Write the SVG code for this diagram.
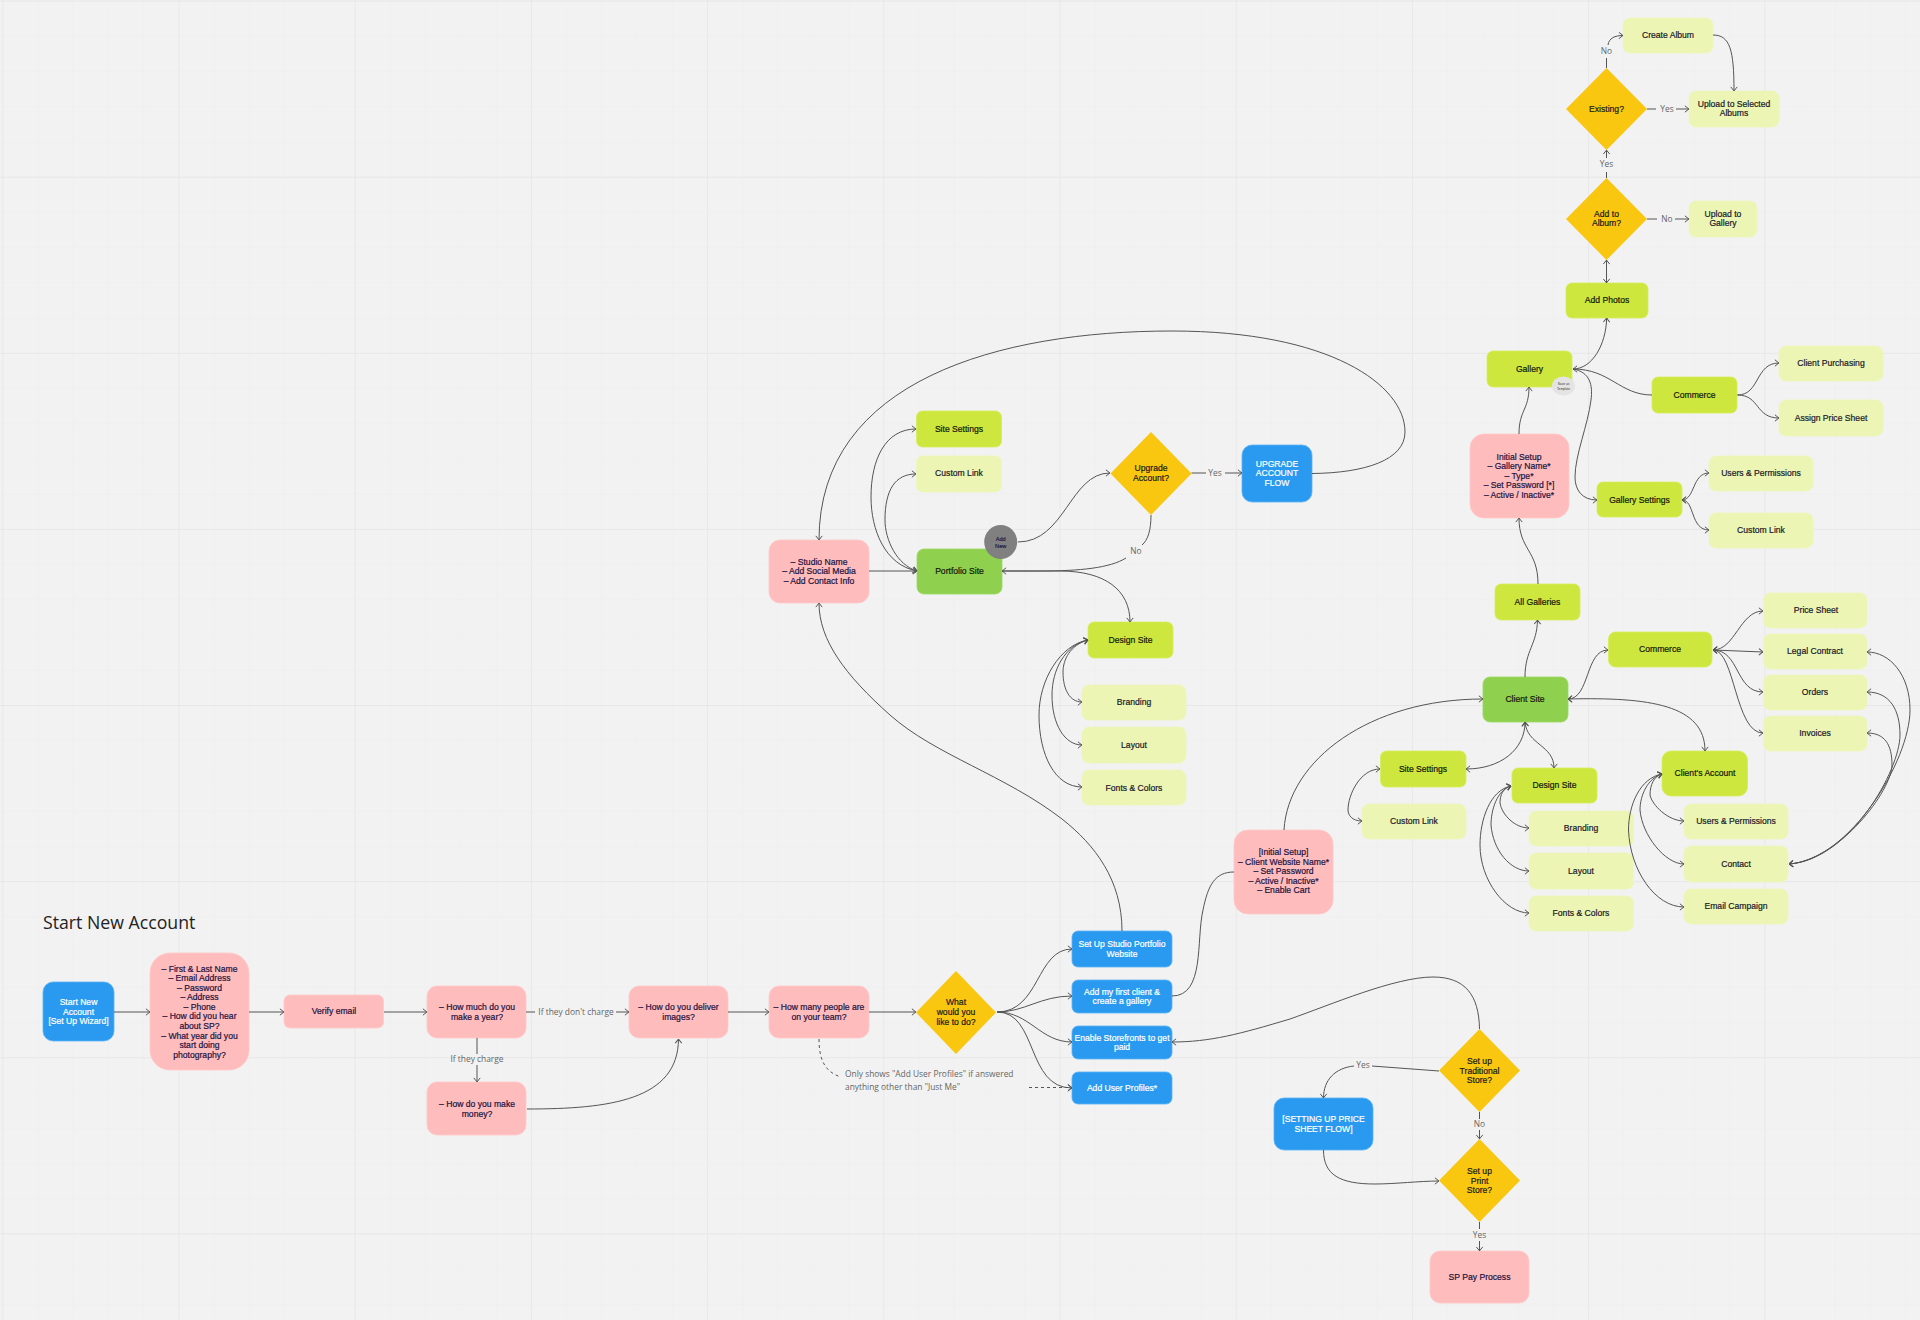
<svg xmlns="http://www.w3.org/2000/svg" width="1920" height="1320" viewBox="0 0 1920 1320">
<style>
text{font-family:"Liberation Sans",Arial,sans-serif;font-size:8.6px;text-anchor:middle}
.bl rect{fill:#2a9af0;stroke:#5cb3f5;stroke-width:.8}
.bl text{fill:#fff;stroke:#fff;stroke-width:.2}
.pk rect{fill:#ffbcbc;stroke:#ffc9c9;stroke-width:.8}
.pk text{fill:#1c1240;stroke:#1c1240;stroke-width:.2}
.lm rect{fill:#cee73e;stroke:#d6ec5a;stroke-width:.8}
.lm text{fill:#14180a;stroke:#14180a;stroke-width:.2}
.lt rect{fill:#ecf5b4;stroke:#eef6bd;stroke-width:.8}
.lt text{fill:#1a1a2a;stroke:#1a1a2a;stroke-width:.2}
.gr rect{fill:#8fd14f;stroke:#9ad860;stroke-width:.8}
.gr text{fill:#14180a;stroke:#14180a;stroke-width:.2}
.dm polygon{fill:#fac710}
.dm text{fill:#1a1a1a;stroke:#1a1a1a;stroke-width:.2}
.lb{font-family:"Open Sans","Noto Sans",sans-serif;fill:#666;font-size:8.4px}
.st{text-anchor:start}
.cn{fill:none;stroke:#555;stroke-width:1}
.a{marker-end:url(#ah)}
.b{marker-start:url(#ah);marker-end:url(#ah)}
.d{stroke-dasharray:3 3}
</style>
<defs>
<marker id="ah" viewBox="0 0 6 8" refX="5.6" refY="4" markerWidth="6" markerHeight="8" markerUnits="userSpaceOnUse" orient="auto-start-reverse"><path d="M1.5,.8 L5.5,4 L1.5,7.2" fill="none" stroke="#555" stroke-width="1"/></marker>
<pattern id="mn" x="2.3" y=".6" width="35.24" height="35.22" patternUnits="userSpaceOnUse"><path d="M0,0H35.24M0,0V35.22" stroke="#eeeeee" stroke-width="1" fill="none"/></pattern>
<pattern id="mj" x="2.3" y=".6" width="176.2" height="176.1" patternUnits="userSpaceOnUse"><path d="M0,0H176.2M0,0V176.1" stroke="#e5e5e5" stroke-width="1.4" fill="none"/></pattern>
</defs>
<rect width="1920" height="1320" fill="#f2f2f2"/>
<rect width="1920" height="1320" fill="url(#mn)"/>
<rect width="1920" height="1320" fill="url(#mj)"/>
<g id="labels">
<text x="43" y="929" class="st" style="font-family:'Open Sans',sans-serif;font-size:17.7px;fill:#222">Start New Account</text>
<text x="576" y="1015" class="lb">If they don't charge</text>
<text x="477" y="1062" class="lb">If they charge</text>
<text x="845" y="1077" class="lb st">Only shows "Add User Profiles" if answered</text>
<text x="845" y="1090" class="lb st">anything other than "Just Me"</text>
<text x="1363" y="1068" class="lb">Yes</text>
<text x="1479.5" y="1127" class="lb">No</text>
<text x="1479.5" y="1238" class="lb">Yes</text>
<text x="1215" y="476" class="lb">Yes</text>
<text x="1136" y="554" class="lb">No</text>
<text x="1606.5" y="167" class="lb">Yes</text>
<text x="1667" y="222" class="lb">No</text>
<text x="1667" y="112" class="lb">Yes</text>
<text x="1606.5" y="54" class="lb">No</text>
</g>
<g id="n-start" class="bl"><rect x="43" y="982" width="71" height="59" rx="10"/><text x="78.5" y="1005">Start New</text><text x="78.5" y="1014.5">Account</text><text x="78.5" y="1024">[Set Up Wizard]</text></g>
<g id="n-signup" class="pk"><rect x="150" y="953" width="99" height="117" rx="20"/><text x="199.5" y="971.7">– First &amp; Last Name</text><text x="199.5" y="981.2">– Email Address</text><text x="199.5" y="990.8">– Password</text><text x="199.5" y="1000.3">– Address</text><text x="199.5" y="1009.9">– Phone</text><text x="199.5" y="1019.4">– How did you hear</text><text x="199.5" y="1029">about SP?</text><text x="199.5" y="1038.5">– What year did you</text><text x="199.5" y="1048">start doing</text><text x="199.5" y="1057.6">photography?</text></g>
<g id="n-verify" class="pk"><rect x="284" y="995" width="99.5" height="33" rx="6"/><text x="334" y="1014">Verify email</text></g>
<g id="n-much" class="pk"><rect x="427" y="986" width="99" height="52" rx="10"/><text x="477" y="1010">– How much do you</text><text x="477" y="1019.5">make a year?</text></g>
<g id="n-money" class="pk"><rect x="427" y="1082" width="99" height="53" rx="10"/><text x="477" y="1107">– How do you make</text><text x="477" y="1116.5">money?</text></g>
<g id="n-deliver" class="pk"><rect x="629" y="986" width="99" height="52" rx="10"/><text x="678.5" y="1010">– How do you deliver</text><text x="678.5" y="1019.5">images?</text></g>
<g id="n-team" class="pk"><rect x="769" y="986" width="100" height="52" rx="10"/><text x="819" y="1010">– How many people are</text><text x="819" y="1019.5">on your team?</text></g>
<g id="n-todo" class="dm"><polygon points="956,971 996,1012.5 956,1054 916,1012.5"/><text x="956" y="1005">What</text><text x="956" y="1015">would you</text><text x="956" y="1024.5">like to do?</text></g>
<g id="n-portfolio-setup" class="bl"><rect x="1072" y="931" width="100" height="36" rx="6"/><text x="1122" y="947">Set Up Studio Portfolio</text><text x="1122" y="956.5">Website</text></g>
<g id="n-first-client" class="bl"><rect x="1072" y="980" width="100" height="33" rx="6"/><text x="1122" y="994.5">Add my first client &amp;</text><text x="1122" y="1004">create a gallery</text></g>
<g id="n-storefronts" class="bl"><rect x="1072" y="1026" width="100" height="33" rx="6"/><text x="1122" y="1040.5">Enable Storefronts to get</text><text x="1122" y="1050">paid</text></g>
<g id="n-user-profiles" class="bl"><rect x="1072" y="1072" width="100" height="32" rx="6"/><text x="1122" y="1091">Add User Profiles*</text></g>
<g id="n-price-flow" class="bl"><rect x="1274" y="1098" width="99" height="52" rx="10"/><text x="1323.5" y="1122">[SETTING UP PRICE</text><text x="1323.5" y="1131.5">SHEET FLOW]</text></g>
<g id="n-trad" class="dm"><polygon points="1479.5,1029 1520,1070.5 1479.5,1112 1439,1070.5"/><text x="1479.5" y="1064">Set up</text><text x="1479.5" y="1073.5">Traditional</text><text x="1479.5" y="1083">Store?</text></g>
<g id="n-print" class="dm"><polygon points="1479.5,1139 1520,1180.5 1479.5,1222 1439,1180.5"/><text x="1479.5" y="1174">Set up</text><text x="1479.5" y="1183.5">Print</text><text x="1479.5" y="1193">Store?</text></g>
<g id="n-sppay" class="pk"><rect x="1430" y="1251" width="99" height="52" rx="10"/><text x="1479.5" y="1280">SP Pay Process</text></g>
<g id="n-studio" class="pk"><rect x="769" y="540" width="100" height="63" rx="11"/><text x="819" y="564.5">– Studio Name</text><text x="819" y="574">– Add Social Media</text><text x="819" y="583.5">– Add Contact Info</text></g>
<g id="n-site-settings" class="lm"><rect x="916.5" y="411" width="85" height="36" rx="6"/><text x="959" y="431.5">Site Settings</text></g>
<g id="n-custom-link" class="lt"><rect x="916.5" y="456" width="85" height="36" rx="6"/><text x="959" y="476">Custom Link</text></g>
<g id="n-portfolio" class="gr"><rect x="917" y="549" width="85" height="45" rx="7"/><text x="959.5" y="573.5">Portfolio Site</text></g>
<g id="n-add-new"><ellipse cx="1000.7" cy="542" rx="16.5" ry="17" fill="#808080"/><text x="1000.7" y="540.5" style="font-size:5.6px;fill:#1c1240;stroke:#1c1240;stroke-width:.15">Add</text><text x="1000.7" y="547.5" style="font-size:5.6px;fill:#1c1240;stroke:#1c1240;stroke-width:.15">New</text></g>
<g id="n-upgrade-q" class="dm"><polygon points="1151,432 1191.5,473.5 1151,515 1110.5,473.5"/><text x="1151" y="471">Upgrade</text><text x="1151" y="480.5">Account?</text></g>
<g id="n-upgrade" class="bl"><rect x="1242" y="445" width="70" height="57" rx="10"/><text x="1277" y="466.5">UPGRADE</text><text x="1277" y="476">ACCOUNT</text><text x="1277" y="485.5">FLOW</text></g>
<g id="n-design" class="lm"><rect x="1088" y="622" width="85" height="36" rx="6"/><text x="1130.5" y="643">Design Site</text></g>
<g id="n-branding" class="lt"><rect x="1082" y="685" width="104" height="35" rx="7"/><text x="1134" y="705">Branding</text></g>
<g id="n-layout" class="lt"><rect x="1082" y="727" width="104" height="36" rx="7"/><text x="1134" y="748">Layout</text></g>
<g id="n-fonts" class="lt"><rect x="1082" y="770" width="104" height="35" rx="7"/><text x="1134" y="790.5">Fonts &amp; Colors</text></g>
<g id="n-create-album" class="lt"><rect x="1623" y="18" width="90" height="35" rx="7"/><text x="1668" y="38">Create Album</text></g>
<g id="n-existing" class="dm"><polygon points="1606.5,68 1647,109 1606.5,150 1566,109"/><text x="1606.5" y="111.5">Existing?</text></g>
<g id="n-upload-sel" class="lt"><rect x="1689" y="91" width="90" height="36" rx="7"/><text x="1734" y="106.5">Upload to Selected</text><text x="1734" y="116">Albums</text></g>
<g id="n-add-album" class="dm"><polygon points="1606.5,178 1647,219 1606.5,260 1566,219"/><text x="1606.5" y="216.5">Add to</text><text x="1606.5" y="226">Album?</text></g>
<g id="n-upload-gal" class="lt"><rect x="1689" y="201" width="68" height="36" rx="7"/><text x="1723" y="216.5">Upload to</text><text x="1723" y="226">Gallery</text></g>
<g id="n-add-photos" class="lm"><rect x="1566" y="283" width="82" height="35" rx="6"/><text x="1607" y="303">Add Photos</text></g>
<g id="n-gallery" class="lm"><rect x="1487" y="351" width="85" height="36" rx="6"/><text x="1529.5" y="371.5">Gallery</text></g>
<g id="n-save-template"><ellipse cx="1563.5" cy="386" rx="11.5" ry="9.5" fill="#e4e4e4"/><text x="1563.5" y="385" style="font-size:3.2px;fill:#333">Save as</text><text x="1563.5" y="389.5" style="font-size:3.2px;fill:#333">Template</text></g>
<g id="n-gal-commerce" class="lm"><rect x="1652" y="377" width="85" height="36" rx="6"/><text x="1694.5" y="397.5">Commerce</text></g>
<g id="n-client-purch" class="lt"><rect x="1779" y="346" width="104" height="35" rx="7"/><text x="1831" y="365.5">Client Purchasing</text></g>
<g id="n-assign" class="lt"><rect x="1779" y="400" width="104" height="36" rx="7"/><text x="1831" y="420.5">Assign Price Sheet</text></g>
<g id="n-initial-gal" class="pk"><rect x="1470" y="434" width="99" height="84" rx="14"/><text x="1519" y="459.5">Initial Setup</text><text x="1519" y="469">– Gallery Name*</text><text x="1519" y="478.5">– Type*</text><text x="1519" y="488">– Set Password [*]</text><text x="1519" y="497.5">– Active / Inactive*</text></g>
<g id="n-gal-settings" class="lm"><rect x="1597" y="482" width="85" height="35" rx="6"/><text x="1639.5" y="502.5">Gallery Settings</text></g>
<g id="n-gal-users" class="lt"><rect x="1709" y="456" width="104" height="35" rx="7"/><text x="1761" y="475.5">Users &amp; Permissions</text></g>
<g id="n-gal-link" class="lt"><rect x="1709" y="513" width="104" height="35" rx="7"/><text x="1761" y="533">Custom Link</text></g>
<g id="n-all-gal" class="lm"><rect x="1495" y="584" width="85" height="36" rx="6"/><text x="1537.5" y="604.5">All Galleries</text></g>
<g id="n-price-sheet" class="lt"><rect x="1763.5" y="593" width="103.5" height="35" rx="7"/><text x="1816" y="613">Price Sheet</text></g>
<g id="n-legal" class="lt"><rect x="1763.5" y="634" width="103.5" height="35" rx="7"/><text x="1815" y="654">Legal Contract</text></g>
<g id="n-orders" class="lt"><rect x="1763.5" y="675" width="103.5" height="35" rx="7"/><text x="1815" y="695">Orders</text></g>
<g id="n-invoices" class="lt"><rect x="1763.5" y="716" width="103.5" height="35" rx="7"/><text x="1815" y="736">Invoices</text></g>
<g id="n-client-commerce" class="lm"><rect x="1608.5" y="632" width="103.5" height="35" rx="7"/><text x="1660" y="652">Commerce</text></g>
<g id="n-client-site" class="gr"><rect x="1483" y="677" width="85" height="45" rx="7"/><text x="1525" y="701.5">Client Site</text></g>
<g id="n-client-settings" class="lm"><rect x="1380.5" y="751" width="85.5" height="36" rx="6"/><text x="1423" y="771.5">Site Settings</text></g>
<g id="n-client-design" class="lm"><rect x="1512" y="768" width="85" height="35" rx="6"/><text x="1554.5" y="788">Design Site</text></g>
<g id="n-client-link" class="lt"><rect x="1362" y="804" width="104" height="35" rx="7"/><text x="1414" y="824">Custom Link</text></g>
<g id="n-client-branding" class="lt"><rect x="1529" y="811" width="104.5" height="35" rx="7"/><text x="1581" y="831">Branding</text></g>
<g id="n-client-layout" class="lt"><rect x="1529" y="853" width="104.5" height="36" rx="7"/><text x="1581" y="874">Layout</text></g>
<g id="n-client-fonts" class="lt"><rect x="1529" y="896" width="104.5" height="35" rx="7"/><text x="1581" y="916">Fonts &amp; Colors</text></g>
<g id="n-client-account" class="lm"><rect x="1662" y="751" width="85.5" height="45" rx="9"/><text x="1705" y="776">Client's Account</text></g>
<g id="n-client-users" class="lt"><rect x="1684" y="804" width="104" height="35" rx="7"/><text x="1736" y="824">Users &amp; Permissions</text></g>
<g id="n-contact" class="lt"><rect x="1684" y="846" width="104" height="36" rx="7"/><text x="1736" y="867">Contact</text></g>
<g id="n-email" class="lt"><rect x="1684" y="889" width="104" height="35" rx="7"/><text x="1736" y="909">Email Campaign</text></g>
<g id="n-initial-client" class="pk"><rect x="1234" y="830" width="99" height="84" rx="14"/><text x="1283.5" y="855">[Initial Setup]</text><text x="1283.5" y="864.5">– Client Website Name*</text><text x="1283.5" y="874">– Set Password</text><text x="1283.5" y="883.5">– Active / Inactive*</text><text x="1283.5" y="893">– Enable Cart</text></g>
<g id="connectors">
<path class="cn a" d="M114,1012H150"/>
<path class="cn a" d="M249,1012H284"/>
<path class="cn a" d="M384,1012H427"/>
<path class="cn" d="M526,1012H535"/><path class="cn a" d="M616,1012H629"/>
<path class="cn" d="M477,1038V1054"/><path class="cn a" d="M477,1065V1082"/>
<path class="cn a" d="M527,1109C610,1109 678,1100 678.5,1039"/>
<path class="cn a" d="M728,1012H769"/>
<path class="cn a" d="M869,1012H916"/>
<path class="cn a" d="M997,1012C1040,1012 1036,949 1072,949"/>
<path class="cn a" d="M997,1012C1025,1012 1040,996 1072,996"/>
<path class="cn a" d="M997,1012C1030,1012 1040,1042 1072,1042"/>
<path class="cn a" d="M997,1012C1038,1012 1026,1088 1072,1088"/>
<path class="cn d" d="M819,1039C819,1060 825,1072 841,1077"/>
<path class="cn d a" d="M1029,1087.5H1072"/>
<path class="cn" d="M1172,996C1205,996 1196,940 1203,910C1208,885 1215,872 1234,872"/>
<path class="cn a" d="M1122,931C1122,880 1095,845 1062,819C1005,775 935,755 890,715C845,675 819,640 819,603"/>
<path class="cn a" d="M1479.5,1029C1479,995 1465,977 1433,977C1395,977 1330,1005 1290,1019C1240,1034 1210,1042 1172,1042"/>
<path class="cn" d="M1439,1071L1372,1066"/>
<path class="cn a" d="M1354,1066C1335,1068 1323.5,1080 1323.5,1098"/>
<path class="cn" d="M1479.5,1112V1119"/><path class="cn a" d="M1479.5,1130V1139"/>
<path class="cn a" d="M1323.5,1150C1323.5,1175 1340,1184 1375,1184C1395,1184 1420,1181 1439,1181"/>
<path class="cn" d="M1479.5,1222V1229"/><path class="cn a" d="M1479.5,1241V1251"/>
<path class="cn a" d="M869,571H917"/>
<path class="cn b" d="M917,571C885,565 871,530 871,497C871,460 885,429 916,429"/>
<path class="cn b" d="M917,571C897,565 885,540 885,520C885,490 895,474 916,474"/>
<path class="cn a" d="M1018,542C1065,542 1070,473 1110,473"/>
<path class="cn" d="M1191.5,473H1206"/><path class="cn a" d="M1225,473H1242"/>
<path class="cn" d="M1151,515C1151,530 1148,540 1142,545"/>
<path class="cn a" d="M1126,558C1110,568 1080,571 1040,571L1002,571"/>
<path class="cn a" d="M1312,473.5C1365,473 1405,460 1405,432C1405,385 1330,331 1172,331C1000,331 819,380 819,540"/>
<path class="cn a" d="M1002,571L1060,571C1105,571 1130,590 1130,622"/>
<path class="cn b" d="M1088,640C1070,645 1063,660 1063,672C1063,690 1070,702 1082,702"/>
<path class="cn b" d="M1088,640C1065,645 1052,670 1052,695C1052,725 1065,745 1082,745"/>
<path class="cn b" d="M1088,640C1060,645 1039,680 1039,715C1039,755 1055,787 1082,787"/>
<path class="cn a" d="M1525,677C1525,650 1537,645 1537.5,620"/>
<path class="cn a" d="M1538,584C1538,550 1519,550 1519,518"/>
<path class="cn a" d="M1519,434C1519,410 1529,410 1529,387"/>
<path class="cn b" d="M1573,369C1592,369 1606,345 1606.7,318"/>
<path class="cn b" d="M1606.5,260V283"/>
<path class="cn" d="M1606.5,178V172"/><path class="cn a" d="M1606.5,158V150"/>
<path class="cn" d="M1647,219H1657"/><path class="cn a" d="M1675,219H1689"/>
<path class="cn" d="M1647,109H1656"/><path class="cn a" d="M1676,109H1689"/>
<path class="cn" d="M1606.5,68V58"/><path class="cn a" d="M1608,45C1609,38 1615,35.5 1623,35.5"/>
<path class="cn a" d="M1713,35C1730,35 1734,50 1734,91"/>
<path class="cn" d="M1573,369C1610,369 1620,395 1652,395"/>
<path class="cn a" d="M1573,369C1590,372 1593,385 1591,400C1588,425 1575,455 1575,477C1575,490 1582,500 1597,500"/>
<path class="cn a" d="M1737.5,395C1760,395 1755,363 1779,363"/>
<path class="cn a" d="M1737.5,395C1760,395 1755,418 1779,418"/>
<path class="cn b" d="M1682,500C1695,500 1692,473 1709,473"/>
<path class="cn b" d="M1682,500C1695,500 1690,530 1709,530"/>
<path class="cn a" d="M1284,830C1288,760 1370,699 1483,699"/>
<path class="cn b" d="M1568,699C1590,699 1585,650 1608,650"/>
<path class="cn b" d="M1568,699C1650,697 1705,705 1705,751"/>
<path class="cn b" d="M1525,722C1525,750 1500,769 1466,769"/>
<path class="cn b" d="M1525,722C1527,745 1554,745 1554,768"/>
<path class="cn b" d="M1380,769C1360,769 1348,795 1348,810C1348,815 1352,821 1362,821"/>
<path class="cn b" d="M1511,786C1503,788 1500,795 1500,803C1502,815 1515,828 1529,828"/>
<path class="cn b" d="M1511,786C1497,790 1491,810 1491,825C1493,850 1510,871 1529,871"/>
<path class="cn b" d="M1511,786C1490,790 1480,820 1480,845C1480,880 1505,913 1529,913"/>
<path class="cn b" d="M1662,774C1654,776 1650,785 1650,795C1652,805 1668,821 1684,821"/>
<path class="cn b" d="M1662,774C1648,778 1640,795 1640,810C1642,835 1665,864 1684,864"/>
<path class="cn b" d="M1662,774C1640,778 1628.5,805 1628.5,830C1630,870 1655,907 1684,907"/>
<path class="cn b" d="M1713,650C1735,650 1740,611 1763,611"/>
<path class="cn b" d="M1713,650L1763,652"/>
<path class="cn b" d="M1713,650C1740,650 1735,692 1763,692"/>
<path class="cn b" d="M1713,650C1735,650 1735,733 1763,733"/>
<path class="cn b" d="M1789,864C1850,860 1910,760 1910,710C1910,675 1890,652 1867,652"/>
<path class="cn b" d="M1789,864C1850,860 1900,770 1900,735C1900,710 1890,692 1867,692"/>
<path class="cn b" d="M1789,864C1840,860 1892,790 1892,765C1892,745 1885,733 1867,733"/>
</g>
</svg>
